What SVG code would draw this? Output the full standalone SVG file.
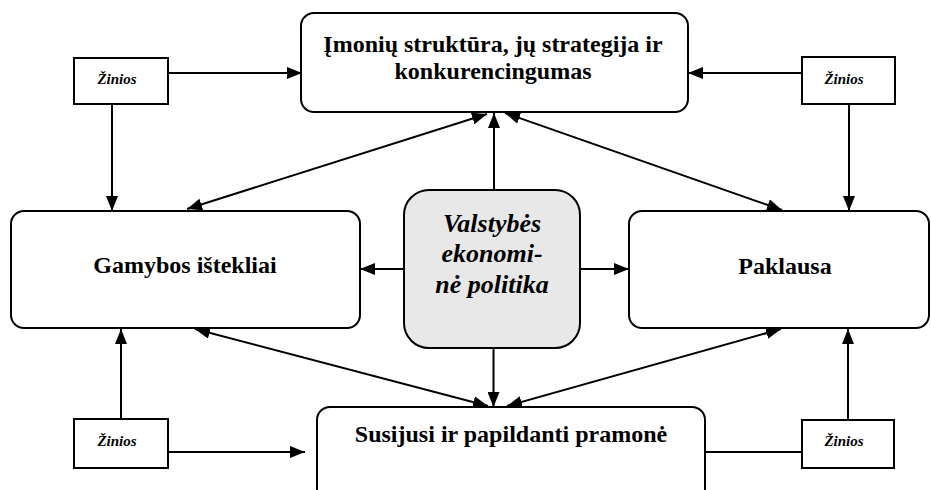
<svg xmlns="http://www.w3.org/2000/svg" width="931" height="490" viewBox="0 0 931 490">
<style>
.box{fill:#fff;stroke:#000;stroke-width:2}
.center{fill:#e8e8e8;stroke:#000;stroke-width:2}
.kbox{fill:#fff;stroke:#000;stroke-width:2}
.t{font-family:"Liberation Serif","Times New Roman",serif;font-weight:bold;font-size:24px;text-anchor:middle;fill:#000}
.ti{font-family:"Liberation Serif","Times New Roman",serif;font-weight:bold;font-style:italic;font-size:26px;text-anchor:middle;fill:#000}
.k{font-family:"Liberation Serif","Times New Roman",serif;font-weight:bold;font-style:italic;font-size:15px;text-anchor:middle;fill:#000}
.c line{stroke:#000;stroke-width:2;fill:none}
.e{marker-end:url(#ah)}
.b{marker-end:url(#ah);marker-start:url(#ah)}
</style>
<defs>
<marker id="ah" markerUnits="userSpaceOnUse" markerWidth="16" markerHeight="12" refX="15" refY="6" orient="auto-start-reverse">
<path d="M0,0 L15,6 L0,12 z" fill="#000"/>
</marker>
</defs>
<g id="connectors" class="c">
<line class="e" x1="168" y1="73" x2="302" y2="73"/>
<line class="e" x1="802" y1="73" x2="688" y2="73"/>
<line class="e" x1="112" y1="104" x2="112" y2="211"/>
<line class="e" x1="849" y1="104" x2="849" y2="211"/>
<line class="b" x1="487" y1="114" x2="187" y2="209"/>
<line class="b" x1="505" y1="113" x2="782" y2="210"/>
<line class="e" x1="494" y1="190" x2="494" y2="113"/>
<line class="e" x1="404" y1="269" x2="360" y2="269"/>
<line class="e" x1="580" y1="269" x2="629" y2="269"/>
<line class="e" x1="493.5" y1="348" x2="493.5" y2="407"/>
<line class="b" x1="195" y1="329" x2="488" y2="406"/>
<line class="b" x1="781" y1="329" x2="507" y2="406"/>
<line class="e" x1="121" y1="419" x2="121" y2="329"/>
<line class="e" x1="848" y1="420" x2="848" y2="329"/>
<line class="e" x1="168" y1="452" x2="305" y2="452"/>
<line class="e" x1="802" y1="452" x2="686" y2="452"/>
</g>
<g id="imones">
<rect class="box" x="301" y="13" width="387" height="99" rx="13"/>
<text class="t" x="493" y="52">Įmonių struktūra, jų strategija ir</text>
<text class="t" x="493" y="79">konkurencingumas</text>
</g>
<g id="gamybos">
<rect class="box" x="11" y="211" width="349" height="117" rx="13"/>
<text class="t" x="185" y="273">Gamybos ištekliai</text>
</g>
<g id="paklausa">
<rect class="box" x="629" y="211" width="300" height="117" rx="13"/>
<text class="t" x="785" y="274">Paklausa</text>
</g>
<g id="valstybes">
<rect class="center" x="404" y="190" width="176" height="158" rx="25"/>
<text class="ti" x="492" y="232">Valstybės</text>
<text class="ti" x="492" y="262">ekonomi-</text>
<text class="ti" x="492" y="293">nė politika</text>
</g>
<g id="susijusi">
<rect class="box" x="317" y="407" width="388" height="110" rx="13"/>
<text class="t" x="511" y="442">Susijusi ir papildanti pramonė</text>
</g>
<g id="zinios-tl">
<rect class="kbox" x="74" y="58" width="94" height="46"/>
<text class="k" x="117" y="84">Žinios</text>
</g>
<g id="zinios-tr">
<rect class="kbox" x="802" y="57" width="93" height="47"/>
<text class="k" x="844" y="84">Žinios</text>
</g>
<g id="zinios-bl">
<rect class="kbox" x="74" y="419" width="94" height="49"/>
<text class="k" x="117" y="446">Žinios</text>
</g>
<g id="zinios-br">
<rect class="kbox" x="802" y="420" width="92" height="48"/>
<text class="k" x="844" y="446">Žinios</text>
</g>
</svg>
